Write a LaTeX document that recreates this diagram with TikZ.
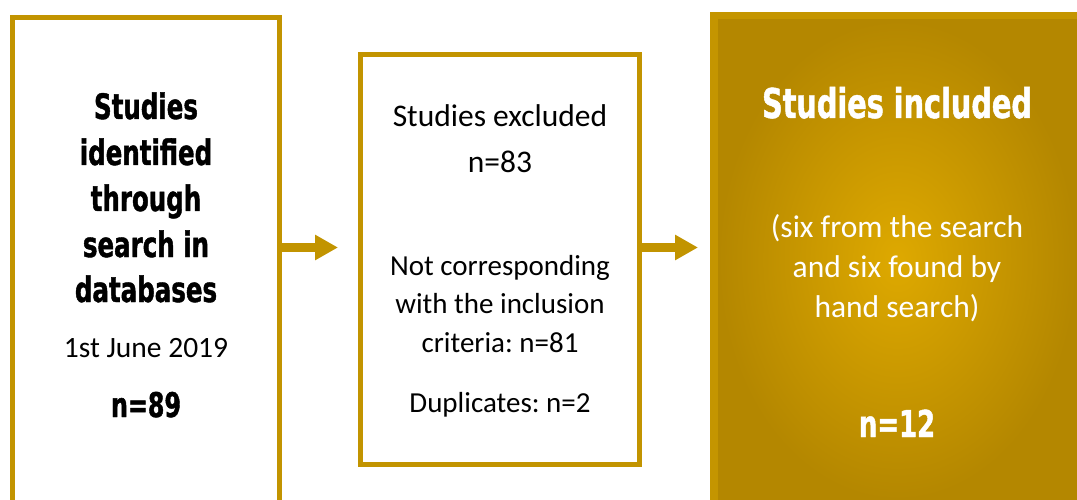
\documentclass[tikz,border=0pt]{standalone}
\usepackage{fontspec}
\setmainfont{Carlito}
\newfontfamily\headfont[FakeStretch=0.70,FakeBold=1.2]{DejaVu Sans}
\usetikzlibrary{arrows.meta}
\frenchspacing
\definecolor{gold}{RGB}{194,148,0}
\definecolor{goldband}{RGB}{196,149,0}
\definecolor{goldlight}{RGB}{222,169,0}
\definecolor{golddark}{RGB}{180,135,0}
\begin{document}
\begin{tikzpicture}[x=1pt,y=-1pt,
  frame/.style={draw=gold, line width=5pt, fill=white, inner sep=0pt, outer sep=0pt},
  arr/.style={draw=gold, line width=9pt, -{Triangle[length=23pt 0 0, width=24pt 0 0]}},
  body/.style={anchor=base, inner sep=0pt, font=\fontsize{31.5}{36}\selectfont},
  small/.style={anchor=base, inner sep=0pt, font=\fontsize{29}{34}\selectfont},
  date/.style={anchor=base, inner sep=0pt, font=\fontsize{29.5}{34}\selectfont},
  head/.style={anchor=base, inner sep=0pt, font=\headfont\bfseries\fontsize{35}{40}\selectfont},
  num/.style={anchor=base, inner sep=0pt, font=\headfont\bfseries\fontsize{34}{40}\selectfont},
  bighead/.style={anchor=base, inner sep=0pt, text=white, font=\headfont\bfseries\fontsize{41}{48}\selectfont},
  bignum/.style={anchor=base, inner sep=0pt, text=white, font=\headfont\bfseries\fontsize{37}{42}\selectfont},
  wbody/.style={body, text=white}]
\useasboundingbox (0,0) rectangle (1077,500);
\begin{scope}
\clip (0,0) rectangle (1077,500);
% box 1
\node[frame, minimum width=267pt, minimum height=520pt] (b1) at (146,277.5) {};
% box 2
\node[frame, minimum width=279pt, minimum height=410pt] (b2) at (500,259.5) {};
% box 3
\node[fill=goldband, inner sep=0pt, outer sep=0pt, minimum width=380pt, minimum height=500pt, anchor=north west] (b3) at (710,12) {};
\shade[inner color=goldlight, outer color=golddark] (718,20) rectangle (1077,500);
\end{scope}
% arrows
\coordinate (a1) at (338,247.5);
\coordinate (a2) at (698,247.5);
\draw[arr] (b1.east |- a1) -- (a1);
\draw[arr] (b2.east |- a2) -- (a2);
% box 1 text
\foreach \t/\y [count=\i] in {Studies/119, identified/165, through/211, search in/257, databases/302}
  \node[head] (h\i) at (146,\y) {\t};
\node[date] (d1) at (146,357) {1st June 2019};
\node[num] (n1) at (146,417) {n=89};
% box 2 text
\node[body] (e1) at (500,127) {Studies excluded};
\node[body] (e2) at (500,172) {n=83};
\node[small] (e3) at (500,275) {Not corresponding};
\node[small] (e4) at (500,313) {with the inclusion};
\node[small] (e5) at (500,352) {criteria: n=81};
\node[small] (e6) at (500,412) {Duplicates: n=2};
% box 3 text
\node[bighead] (i1) at (897,118) {Studies included};
\node[wbody] (i2) at (897,237) {(six from the search};
\node[wbody] (i3) at (897,277) {and six found by};
\node[wbody] (i4) at (897,317) {hand search)};
\node[bignum] (i5) at (897,437) {n=12};
\end{tikzpicture}
\end{document}
